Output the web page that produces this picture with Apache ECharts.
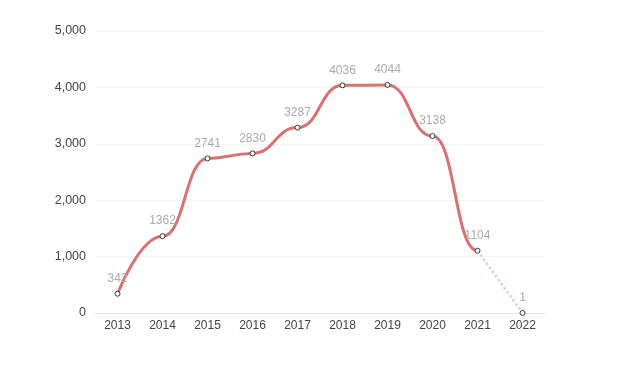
<!DOCTYPE html>
<html><head><meta charset="utf-8">
<script src="https://cdn.jsdelivr.net/npm/echarts@6/dist/echarts.min.js"></script>
<style>html,body{margin:0;padding:0;background:#fff}#c{width:640px;height:369px}</style>
</head><body><div id="c"></div>
<script>
const categories = ['2013','2014','2015','2016','2017','2018','2019','2020','2021','2022'];
const values = [342,1362,2741,2830,3287,4036,4044,3138,1104,1];
const dottedValues = ['-','-','-','-','-','-','-','-',1104,1];
const yTicks = {min:0, max:5000, interval:1000};
const FONT = 'Liberation Sans, Arial, sans-serif';
const solidEndIndex = 8;
const cut = solidEndIndex / (values.length - 1);

const chart = echarts.init(document.getElementById('c'));
chart.setOption({
  animation:false,
  grid:{left:95,right:95,top:31,bottom:56},
  xAxis:{type:'category',data:categories,boundaryGap:true,
    axisLine:{lineStyle:{color:'#e6e6e6'}},axisTick:{show:false},
    axisLabel:{color:'#444',fontSize:12,margin:7,fontFamily:FONT}},
  yAxis:{type:'value',min:yTicks.min,max:yTicks.max,interval:yTicks.interval,
    axisLine:{show:false},axisTick:{show:false},
    splitLine:{lineStyle:{color:'#f3f3f3'}},
    axisLabel:{color:'#444',fontSize:12.5,margin:9,fontFamily:FONT,
      formatter:v=>v.toLocaleString('en-US')}},
  series:[
    {type:'line',data:values,smooth:0.5,smoothMonotone:'x',symbol:'none',
      lineStyle:{width:3,color:{type:'linear',x:0,y:0,x2:1,y2:0,colorStops:[
        {offset:0,color:'#d9716e'},{offset:cut,color:'#d9716e'},
        {offset:cut,color:'rgba(217,113,110,0)'},{offset:1,color:'rgba(217,113,110,0)'}]}},z:2},
    {type:'line',data:dottedValues,smooth:false,symbol:'none',
      lineStyle:{color:'#f0c8c8',width:2.5,type:'dotted'},z:2},
    {type:'line',data:values,symbol:'circle',symbolSize:5,showAllSymbol:true,
      lineStyle:{width:0,opacity:0},
      itemStyle:{color:'#fff',borderColor:'#333',borderWidth:1},
      label:{show:true,position:'top',color:'#aaa',fontSize:12,fontFamily:FONT,distance:6},z:3}
  ]
});
</script></body></html>
